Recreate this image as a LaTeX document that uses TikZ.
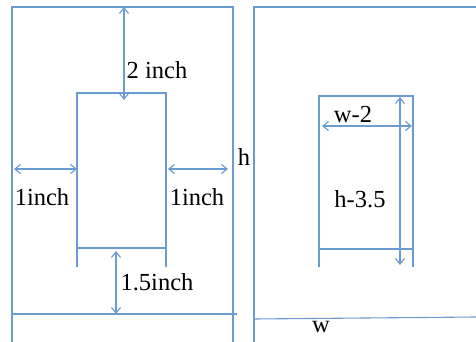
\documentclass[tikz,border=0pt]{standalone}
\usepackage{fontspec}
\setmainfont{Liberation Serif}
\usetikzlibrary{arrows.meta,positioning,calc}
\usepackage{xcolor}
\definecolor{steel}{HTML}{6C9BD2}
\tikzset{
  wall/.style={draw=steel,line width=1.1pt},
  dim/.style={wall,{Straight Barb[length=2mm,width=3.2mm]}-{Straight Barb[length=2mm,width=3.2mm]}},
  lbl/.style={font=\fontsize{24.5}{27}\selectfont,inner sep=0pt,text=black}
}

\begin{document}
\begin{tikzpicture}[x=1pt,y=-1pt]
\useasboundingbox (0,0) rectangle (476,342);
% left page
\coordinate (pa) at (12,7);
\coordinate (pb) at (233,7);
\coordinate (pc) at (12,342);
\coordinate (pd) at (233,342);
\draw[wall] (pc) -- (pa) -- (pb) -- (pd);
\draw[wall] (12,314) coordinate (pe) -- (237,314) coordinate (pf);
% left text box
\coordinate (ba) at (77,93);
\coordinate (bb) at (166,93);
\draw[wall] (77,267) coordinate (bc) -- (ba) -- (bb) -- (166,267) coordinate (bd);
\draw[wall] (77,248) coordinate (be) -- (166,248) coordinate (bf);
% margins
\draw[dim] (124,7) coordinate (t1) -- (124,100) coordinate (t2);
\draw[dim] (14,169) coordinate (l1) -- (ba |- l1);
\draw[dim] (168,169) coordinate (r1) -- (228,169) coordinate (r2);
\draw[dim] (116,251) coordinate (u1) -- (116,314) coordinate (u2);
\node[lbl] (top) at (157,70) {2 inch};
\node[lbl] (left) at (42,197) {1inch};
\node[lbl] (right) at (197,197) {1inch};
\node[lbl] (bottom) at (157,282) {1.5inch};
\node[lbl] (hh) at (244,157) {h};
% right page
\coordinate (qa) at (254,7);
\coordinate (qb) at (476,7);
\coordinate (qc) at (254,342);
\draw[wall] (qc) -- (qa) -- (qb);
\draw[wall] (254,319) coordinate (qe) -- (476,317) coordinate (qf);
% right text box
\coordinate (ca) at (319,96);
\coordinate (cb) at (413,96);
\draw[wall] (319,267) coordinate (cc) -- (ca) -- (cb) -- (413,267) coordinate (cd);
\draw[wall] (319,249) coordinate (ce) -- (413,249) coordinate (cf);
\draw[dim] (322,126) coordinate (w1) -- (412,126) coordinate (w2);
\draw[dim] (400,97) coordinate (v1) -- (400,265) coordinate (v2);
\node[lbl] (ww) at (353,115) {w-2};
\node[lbl] (hs) at (360,199) {h-3.5};
\node[lbl] (w) at (321,327) {w};
\end{tikzpicture}
\end{document}
